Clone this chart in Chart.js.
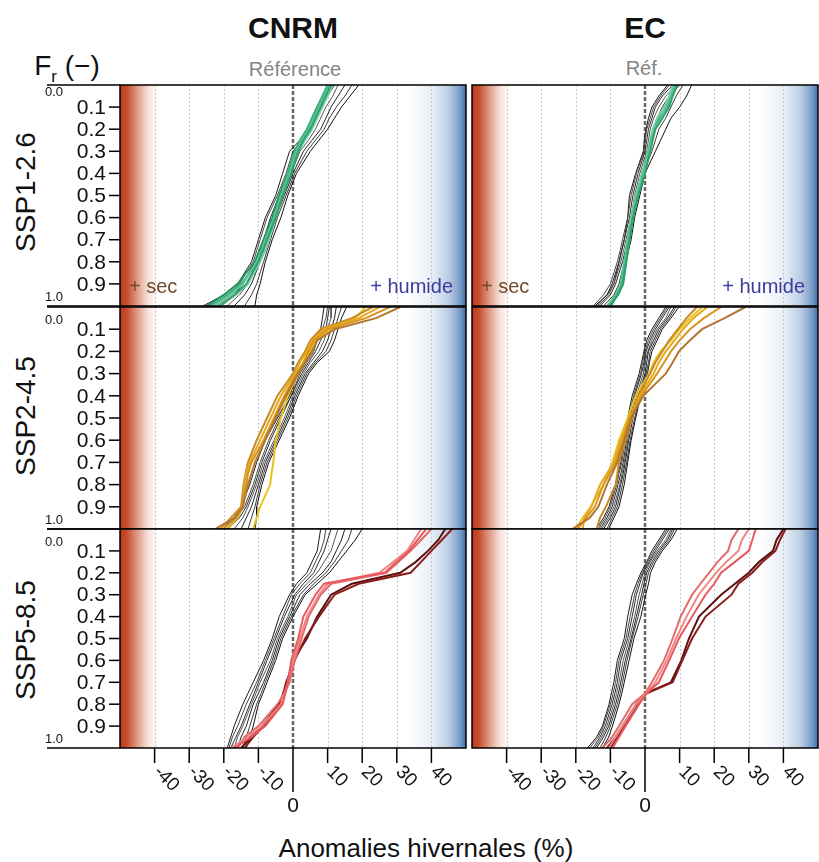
<!DOCTYPE html>
<html><head><meta charset="utf-8">
<script src="https://cdn.jsdelivr.net/npm/chart.js@4/dist/chart.umd.min.js"></script>
<style>
body{margin:0;background:#fff;width:819px;height:862px;overflow:hidden;position:relative;font-family:"Liberation Sans",Arial,sans-serif}
canvas{position:absolute;left:0;top:0}
.t{position:absolute;white-space:nowrap;line-height:1;transform:translate(-50%,-50%);color:#111}
.rot{transform:translate(-50%,-50%) rotate(-90deg)}
sub{font-size:17px;vertical-align:-0.4em;line-height:0}
</style></head><body>
<div class="t" style="left:293px;top:28px;font-size:30px;font-weight:bold">CNRM</div>
<div class="t" style="left:645px;top:28px;font-size:30px;font-weight:bold">EC</div>
<div class="t" style="left:295px;top:69px;font-size:20px;color:#858585">Référence</div>
<div class="t" style="left:644px;top:68px;font-size:20px;color:#858585">Réf.</div>
<div class="t" style="left:67px;top:66px;font-size:28px">F<sub>r</sub> (−)</div>
<div class="t rot" style="left:26px;top:192px;font-size:28px">SSP1-2.6</div>
<div class="t rot" style="left:26px;top:416px;font-size:28px">SSP2-4.5</div>
<div class="t rot" style="left:26px;top:640px;font-size:28px">SSP5-8.5</div>
<div class="t" style="left:426px;top:848px;font-size:26px">Anomalies hivernales (%)</div>
<canvas id="c0" width="819" height="862"></canvas>
<canvas id="c1" width="819" height="862"></canvas>
<canvas id="c2" width="819" height="862"></canvas>
<canvas id="c3" width="819" height="862"></canvas>
<canvas id="c4" width="819" height="862"></canvas>
<canvas id="c5" width="819" height="862"></canvas>
<script>
// ---------- data ----------
const FR = [0, 0.05, 0.1, 0.15, 0.2, 0.25, 0.3, 0.4, 0.5, 0.6, 0.7, 0.75, 0.8, 0.9, 0.95, 1];
const X_TICKS = [-40, -30, -20, -10, 0, 10, 20, 30, 40];
const Y_TICKS = [0.1, 0.2, 0.3, 0.4, 0.5, 0.6, 0.7, 0.8, 0.9];
const Y_TICK_LABELS = ['0.1', '0.2', '0.3', '0.4', '0.5', '0.6', '0.7', '0.8', '0.9'];
const MODELS = ['CNRM', 'EC'];
const SCENARIOS = ['SSP1-2.6', 'SSP2-4.5', 'SSP5-8.5'];

// CNRM SSP1-2.6
const A_ref1 = [19, 16.5, 14, 12, 10, 7.5, 5, 1, -1.5, -3.5, -6, -7, -8, -9.5, -10.5, -11];
const A_ref2 = [17, 15, 12.5, 10.5, 9, 6.5, 4, 0.5, -2, -4.5, -6.5, -7.5, -8.5, -10.5, -12, -14];
const A_ref3 = [15, 13, 11, 9.5, 8, 5.5, 3, 0, -2.5, -5, -7, -8, -9.5, -12, -14, -17];
const A_ref4 = [13, 11.5, 9.5, 8, 6.5, 4.5, 2, -0.5, -3, -5.5, -8, -9, -10, -13, -15.5, -19];
const A_ref5 = [12, 10, 8.5, 7, 5.5, 3, 1, -1.5, -4, -6.5, -8.5, -9.5, -11, -14.5, -17, -22];
const A_ref6 = [11, 9, 7.5, 6, 4.5, 2.5, 0, -2, -4.5, -7.5, -9.5, -10.5, -11.5, -15.5, -19, -24];
const A_ref7 = [10.5, 8.5, 7, 5.5, 4, 2, -1, -3, -5, -8, -10, -11, -12, -16, -20, -26];
const A_sim1 = [11, 9.5, 8, 6.5, 5, 3, 1.5, -0.5, -3, -5, -7.5, -8.7, -10, -13.5, -17, -21];
const A_sim2 = [10.5, 9, 7.5, 6, 4.5, 2.5, 1, -1, -3.5, -5.5, -8, -9.2, -10.5, -14.5, -18, -23];
const A_sim3 = [10, 8.5, 7, 5.5, 4, 2, 0.5, -1.5, -3.5, -5.5, -7.5, -8.8, -10, -15, -19, -24];
const A_sim4 = [11.5, 10, 8.5, 7, 5.5, 3.5, 1.5, -1, -3, -5, -7, -8.2, -9.5, -13, -16.5, -21.5];
const A_sim5 = [10.5, 9, 7, 5.5, 4.5, 2.5, 0.5, -1.5, -4, -6, -8.5, -9.8, -11, -16, -20, -25];

// CNRM SSP2-4.5
const B_ref1 = [15.5, 14, 13, 12, 10.5, 7, 4.5, 1.5, -1, -4, -7, -8, -9, -10.5, -10.5, -11];
const B_ref2 = [14, 13, 12, 11, 9.5, 6.5, 4, 1, -1.5, -4.5, -7.5, -8.5, -9.5, -11, -12, -13];
const B_ref3 = [12.5, 12, 11, 10, 8.5, 6, 3.5, 0.5, -2, -5, -8, -9, -10, -12, -13.5, -15];
const B_ref4 = [11, 11, 10, 9, 7.5, 5, 3, 0, -2.5, -5.5, -8.5, -9.5, -10.5, -13, -14.5, -17];
const B_ref5 = [10.5, 10, 9.5, 8, 6.5, 4.5, 2.5, -0.5, -3.5, -6.5, -9, -10, -11, -13.5, -15.5, -19];
const B_ref6 = [10, 9.5, 8.5, 7, 6, 4, 2, -0.5, -4, -7, -9.5, -10.5, -11.5, -14, -16.5, -20];
const B_ref7 = [9, 8.5, 8, 6.5, 5, 3.5, 1.5, -1, -4.5, -8, -10.5, -11.5, -12.5, -15, -17, -21];
const B_sim1 = [31, 24, 12, 7, 5.5, 3.5, 1.5, -2, -5, -8, -11, -12, -13, -14.5, -17, -22.5];
const B_sim2 = [28, 21, 10, 6, 4.5, 3, 1, -2.5, -5.5, -8.5, -12, -13, -13.5, -15, -18, -21];
const B_sim3 = [25, 19, 9, 5.5, 4, 2, 0.5, -3.5, -6.5, -9.5, -12.5, -13.5, -14, -14.5, -16, -19];
const B_sim4 = [23, 17, 8, 5, 3.5, 1.5, 0, -4.5, -7.5, -10.5, -13, -13.7, -14.3, -15, -17, -20];
const B_sim5 = [21, 18, 11, 6.5, 5, 3, 1.5, -1.5, -3.5, -5, -5.7, -6.2, -6.6, -9.5, -10.5, -11.5];

// CNRM SSP5-8.5
const C_ref1 = [20, 18, 15.5, 13, 10.5, 7, 3.5, 0, -3, -5, -7.5, -8.7, -10, -11.5, -12.5, -13.5];
const C_ref2 = [17, 16, 14, 12, 9.5, 6, 3, -0.5, -3.5, -5.5, -8, -9.2, -10.5, -12.5, -13.5, -14.5];
const C_ref3 = [15, 14, 12.5, 11, 8.5, 5, 2, -1, -4, -6, -8.5, -10, -11.5, -13.5, -15, -16];
const C_ref4 = [13, 12, 11, 9, 7, 4, 1, -1.5, -4.5, -6.5, -9.5, -10.7, -12, -14.5, -16, -17];
const C_ref5 = [11, 10, 9, 7.5, 6, 3, 0.5, -2.5, -5, -7.5, -10, -11.2, -12.5, -15, -16.5, -18];
const C_ref6 = [9.5, 9, 8, 6.5, 5, 2, -0.5, -3, -5.5, -8, -10.5, -12, -13.5, -16, -17.5, -18.5];
const C_ref7 = [8, 7.5, 7, 5.5, 4, 1, -1, -4, -6, -8.5, -11.5, -13, -14.5, -17, -18, -19];
const C_sim1 = [38.5, 36, 33.5, 30, 26.5, 9, 6.5, 3, 1.5, -0.5, -1.5, -2.2, -3, -8, -12, -17];
const C_sim2 = [37, 35, 33, 29, 25, 10, 7.5, 4, 2, 0, -1.5, -2.5, -3.5, -9, -13, -18];
const C_sim3 = [40, 37, 34, 30.5, 27, 11, 8, 4.5, 2.5, 0.5, -1, -2.5, -4.5, -10, -14, -16];
const C_sim4 = [46, 43, 40, 37, 34, 19, 12, 7.5, 3.5, 0.5, -2, -2.8, -3.5, -8.5, -11.5, -14];
const C_sim5 = [44, 42, 39, 35.5, 31, 17, 11, 7, 4, 0, -1.5, -2.8, -4, -9, -12, -15];

// EC SSP1-2.6
const D_ref1 = [13.5, 12, 10, 7.5, 6, 4.5, 3, 0, -1.5, -3, -4, -4.8, -5.5, -7, -8.5, -11];
const D_ref2 = [11, 9, 7.5, 6, 4, 3, 2, -0.5, -2, -3.5, -4.5, -5.2, -6, -7.5, -9, -12];
const D_ref3 = [10, 7, 5, 3.5, 2.5, 1.5, 1, -1, -2.5, -3.5, -5, -5.7, -6.5, -8.5, -10, -13];
const D_ref4 = [9, 6, 4, 2.5, 1.5, 1, 0.5, -1.5, -3, -4, -5.5, -6.2, -7, -9, -10.5, -13.5];
const D_ref5 = [8, 5, 3, 2, 1, 0.5, 0, -2, -3.5, -4.5, -6, -6.7, -7.5, -9.5, -11, -14];
const D_ref6 = [7, 4.5, 2.5, 1.5, 0.5, 0, -0.3, -2.5, -4, -5, -6.5, -7.2, -8, -10, -12, -15];
const D_ref7 = [6.5, 4, 2, 1, 0.3, -0.2, -0.5, -2.7, -4.5, -5, -6, -6.8, -7.5, -9, -11, -14.5];
const D_sim1 = [9.3, 8, 7, 5, 3, 2.2, 1.5, 0, -2, -3.5, -4.5, -5, -5.5, -6.5, -8, -10];
const D_sim2 = [8.5, 7.5, 6, 4.5, 2.5, 2, 1, -0.5, -2.5, -4, -5, -5.5, -6, -7, -8.5, -11];
const D_sim3 = [9, 7.5, 6.5, 4, 2.8, 1.8, 1.2, -0.3, -2.2, -3.7, -4.6, -5.1, -5.6, -6.5, -8, -10.5];
const D_sim4 = [8, 7, 5.5, 3.5, 2.2, 1.5, 0.8, -0.8, -2.7, -4, -5, -5.4, -5.8, -6.8, -8.5, -9.5];
const D_sim5 = [8.8, 7.8, 6.3, 4.3, 2.6, 2, 1.3, -0.2, -2, -3.5, -4.4, -4.9, -5.4, -6.3, -7.8, -10.2];

// EC SSP2-4.5
const E_ref1 = [9.8, 7.5, 5, 3.5, 2, 1.3, 0.7, -1.2, -2.7, -4, -5, -5.5, -6, -7.5, -9, -10.5];
const E_ref2 = [9, 7, 4.5, 3, 1.5, 1, 0.3, -1.5, -3, -4.3, -5.3, -5.9, -6.5, -8, -9.5, -11];
const E_ref3 = [8.5, 6.5, 4, 2.5, 1, 0.5, 0, -2, -3.5, -4.7, -5.7, -6.3, -7, -8.5, -10, -12];
const E_ref4 = [7.5, 6, 3.5, 2, 0.8, 0, -0.5, -2.5, -4, -5, -6, -6.6, -7.3, -9, -10.5, -12.5];
const E_ref5 = [7, 5, 3, 1.5, 0.3, -0.3, -1, -3, -4.3, -5.3, -6.3, -7, -7.8, -9.5, -11, -13];
const E_ref6 = [6.5, 4.5, 2.5, 1, 0, -0.7, -1.3, -3.3, -4.7, -5.7, -6.7, -7.5, -8.2, -10, -11.5, -13.5];
const E_ref7 = [6, 4, 2, 0.5, -0.3, -1, -1.7, -3.7, -5, -6, -7, -7.8, -8.5, -10.4, -12, -14];
const E_sim1 = [29, 23, 16.5, 13, 9.8, 8, 6, -0.5, -4, -6, -8, -9.5, -11, -13.5, -16, -21];
const E_sim2 = [22, 17, 13, 10, 7.5, 5.5, 3.5, -1, -4.5, -6.5, -8.5, -10.2, -12, -14.5, -17, -19.5];
const E_sim3 = [18, 14, 11, 8.5, 6, 4, 2.5, -1.5, -4.5, -7, -9, -11, -13, -15.5, -17.5, -18];
const E_sim4 = [15, 12, 9.5, 7, 5, 3, 1.5, -2, -3.7, -5.6, -7.5, -8, -8.5, -11.3, -13, -14];
const E_sim5 = [16.5, 13, 10, 7.5, 4.5, 2.5, 1.2, -2.7, -5, -7.5, -9.4, -10.7, -12, -15.7, -18, -20];

// EC SSP5-8.5
const F_ref1 = [9.3, 7.5, 5, 3, 1.6, 1, 0.2, -1.2, -3.2, -4.6, -6, -6.7, -7.5, -9.4, -10.5, -12.3];
const F_ref2 = [8.5, 7, 4.5, 2.5, 1, 0.3, -0.5, -2, -3.7, -5.2, -6.5, -7.2, -8, -10, -11.3, -13];
const F_ref3 = [8, 6.5, 4, 2, 0.5, -0.3, -1, -2.5, -4, -5.7, -7, -7.7, -8.5, -10.5, -12, -14];
const F_ref4 = [7.5, 6, 3.5, 1.5, 0, -0.8, -1.7, -3, -4.5, -6.3, -7.5, -8.2, -9, -11, -12.5, -14.5];
const F_ref5 = [7, 5, 3, 1.2, -0.5, -1.5, -2.5, -3.7, -5, -7, -8, -8.7, -9.5, -11.5, -13, -15];
const F_ref6 = [6.5, 4.5, 2.5, 0.8, -0.8, -2, -3, -4.3, -5.5, -7.5, -8.5, -9.2, -10, -12, -13.5, -16];
const F_ref7 = [6, 4, 2, 0.5, -1.2, -2.5, -3.7, -5, -6, -8, -9, -9.7, -10.4, -12.3, -14, -16.6];
const F_sim1 = [32, 31, 30, 26, 22, 20, 17.5, 13.6, 9.8, 7, 4, 0.5, -1.7, -5.6, -7.5, -9.4];
const F_sim2 = [30, 28, 27, 23.5, 20.5, 18, 15.5, 12, 9, 6.3, 3, 0.3, -2.5, -6.5, -8.5, -10.5];
const F_sim3 = [27, 25, 24, 21, 18.5, 16, 13.6, 10.3, 8, 5.5, 2, 0, -3.7, -7.5, -9.5, -12.3];
const F_sim4 = [40.6, 39, 37.7, 34, 31, 27, 25, 17.5, 13.6, 10.8, 8, 0.5, -2, -6, -8, -10];
const F_sim5 = [40, 38, 37, 33, 30, 26, 22, 15.6, 12.7, 10.5, 7.5, 0.2, -2.5, -6.5, -8.5, -11];

// ---------- styles ----------
const REF_COLORS = ['#111111', '#3a3a3a', '#222222', '#555555', '#2a2a2a', '#464646', '#1a1a1a'];
const GREENS = ['#2fa36f', '#5cc494', '#3bb07c', '#7fd0aa', '#24935f'];
const ORANGES = ['#b37530', '#d8951c', '#e4aa1c', '#c98b26', '#e9c31a'];
const REDS = ['#e8585c', '#f08585', '#e46a6a', '#8b1c1c', '#5c1010'];

const COL_X = [[120, 466], [472, 818]];
const ROW_Y = [[85, 306], [307, 529], [529, 748]];
const ZERO_LABEL_OFFSET = [7, 13, 13];

const PANELS = [
  {col: 0, row: 0, refs: [A_ref1, A_ref2, A_ref3, A_ref4, A_ref5, A_ref6, A_ref7], sims: [A_sim1, A_sim2, A_sim3, A_sim4, A_sim5], colors: GREENS},
  {col: 0, row: 1, refs: [B_ref1, B_ref2, B_ref3, B_ref4, B_ref5, B_ref6, B_ref7], sims: [B_sim1, B_sim2, B_sim3, B_sim4, B_sim5], colors: ORANGES},
  {col: 0, row: 2, refs: [C_ref1, C_ref2, C_ref3, C_ref4, C_ref5, C_ref6, C_ref7], sims: [C_sim1, C_sim2, C_sim3, C_sim4, C_sim5], colors: REDS},
  {col: 1, row: 0, refs: [D_ref1, D_ref2, D_ref3, D_ref4, D_ref5, D_ref6, D_ref7], sims: [D_sim1, D_sim2, D_sim3, D_sim4, D_sim5], colors: GREENS},
  {col: 1, row: 1, refs: [E_ref1, E_ref2, E_ref3, E_ref4, E_ref5, E_ref6, E_ref7], sims: [E_sim1, E_sim2, E_sim3, E_sim4, E_sim5], colors: ORANGES},
  {col: 1, row: 2, refs: [F_ref1, F_ref2, F_ref3, F_ref4, F_ref5, F_ref6, F_ref7], sims: [F_sim1, F_sim2, F_sim3, F_sim4, F_sim5], colors: REDS}
];

const FONT = '"Liberation Sans", Arial, sans-serif';

function panelPlugin(p) {
  return {
    id: 'panel' + p.col + p.row,
    beforeDatasetsDraw(chart) {
      const {ctx, chartArea: a, scales: {x, y}} = chart;
      ctx.save();
      const g = ctx.createLinearGradient(x.getPixelForValue(-50), 0, x.getPixelForValue(50), 0);
      g.addColorStop(0, '#bd3a1a');
      g.addColorStop(0.02, '#c84d2c');
      g.addColorStop(0.05, '#e09a84');
      g.addColorStop(0.08, '#f6e0d8');
      g.addColorStop(0.11, '#ffffff');
      g.addColorStop(0.83, '#ffffff');
      g.addColorStop(0.90, '#eaeff7');
      g.addColorStop(0.95, '#bccde3');
      g.addColorStop(0.985, '#7497c4');
      g.addColorStop(1, '#3b6ca8');
      ctx.fillStyle = g;
      ctx.fillRect(a.left, a.top, a.right - a.left, a.bottom - a.top);
      // dotted grid
      ctx.lineWidth = 1;
      ctx.strokeStyle = '#b4b4b4';
      ctx.setLineDash([1.5, 2.5]);
      X_TICKS.forEach(v => {
        if (v === 0) return;
        const px = Math.round(x.getPixelForValue(v)) + 0.5;
        ctx.beginPath(); ctx.moveTo(px, a.top); ctx.lineTo(px, a.bottom); ctx.stroke();
      });
      // zero line
      ctx.strokeStyle = '#666666';
      ctx.lineWidth = 2.5;
      ctx.setLineDash([4, 2]);
      const z = x.getPixelForValue(0);
      ctx.beginPath(); ctx.moveTo(z, a.top); ctx.lineTo(z, a.bottom); ctx.stroke();
      ctx.restore();
    },
    afterDatasetsDraw(chart) {
      const {ctx, chartArea: a, scales: {x, y}} = chart;
      ctx.save();
      ctx.setLineDash([]);
      ctx.strokeStyle = '#000';
      ctx.lineWidth = 1.5;
      ctx.strokeRect(a.left, a.top, a.right - a.left, a.bottom - a.top);
      ctx.fillStyle = '#111';
      if (p.col === 0) {
        ctx.beginPath();
        ctx.moveTo(47, y.getPixelForValue(0)); ctx.lineTo(a.left, y.getPixelForValue(0));
        ctx.moveTo(47, y.getPixelForValue(1)); ctx.lineTo(a.left, y.getPixelForValue(1));
        ctx.stroke();
        ctx.font = '21px ' + FONT;
        ctx.textAlign = 'right';
        ctx.textBaseline = 'middle';
        Y_TICKS.forEach((v, i) => {
          const py = y.getPixelForValue(v);
          ctx.beginPath(); ctx.moveTo(a.left - 11, py); ctx.lineTo(a.left, py); ctx.stroke();
          ctx.fillText(Y_TICK_LABELS[i], a.left - 14, py + 1);
        });
        ctx.font = '13px ' + FONT;
        ctx.textAlign = 'left';
        ctx.fillText('0.0', 45, y.getPixelForValue(0) + ZERO_LABEL_OFFSET[p.row]);
        ctx.fillText('1.0', 45, y.getPixelForValue(1) - 9);
      }
      if (p.row === 2) {
        const b = a.bottom;
        X_TICKS.forEach(v => {
          const px = x.getPixelForValue(v);
          ctx.beginPath();
          ctx.moveTo(px, b); ctx.lineTo(px, b + (v === 0 ? 44 : 15));
          ctx.stroke();
          if (v === 0) {
            ctx.font = '21px ' + FONT;
            ctx.textAlign = 'center';
            ctx.textBaseline = 'middle';
            ctx.fillText('0', px, b + 58);
          } else {
            ctx.save();
            ctx.translate(px + 2, b + 21);
            ctx.rotate(Math.PI / 4);
            ctx.font = '19px ' + FONT;
            ctx.textAlign = 'left';
            ctx.textBaseline = 'middle';
            ctx.fillText(String(v), 0, 0);
            ctx.restore();
          }
        });
      }
      if (p.row === 0) {
        ctx.font = '20px ' + FONT;
        ctx.textBaseline = 'middle';
        ctx.textAlign = 'left';
        ctx.fillStyle = '#6e4b2e';
        ctx.fillText('+ sec', a.left + 9, a.bottom - 19);
        ctx.textAlign = 'right';
        ctx.fillStyle = '#3c3c9c';
        ctx.fillText('+ humide', a.right - 13, a.bottom - 19);
      }
      ctx.restore();
    }
  };
}

PANELS.forEach((p, idx) => {
  const [l, r] = COL_X[p.col];
  const [t, b] = ROW_Y[p.row];
  const datasets = [];
  p.sims.forEach((xs, i) => datasets.push({
    data: FR.map((f, k) => ({x: xs[k], y: f})),
    showLine: true, borderColor: p.colors[i], borderWidth: 2, pointRadius: 0, order: 0
  }));
  p.refs.forEach((xs, i) => datasets.push({
    data: FR.map((f, k) => ({x: xs[k], y: f})),
    showLine: true, borderColor: REF_COLORS[i], borderWidth: 1, pointRadius: 0, order: 1
  }));
  new Chart(document.getElementById('c' + idx), {
    type: 'scatter',
    data: {datasets},
    options: {
      responsive: false, animation: false, events: [], devicePixelRatio: 1,
      layout: {padding: {left: l, top: t, right: 819 - r, bottom: 862 - b}},
      scales: {
        x: {type: 'linear', min: -50, max: 50, display: false},
        y: {type: 'linear', min: 0, max: 1, reverse: true, display: false}
      },
      plugins: {legend: {display: false}, tooltip: {enabled: false}, title: {display: false}},
      elements: {line: {tension: 0}, point: {radius: 0}}
    },
    plugins: [panelPlugin(p)]
  });
});
</script>
</body></html>
